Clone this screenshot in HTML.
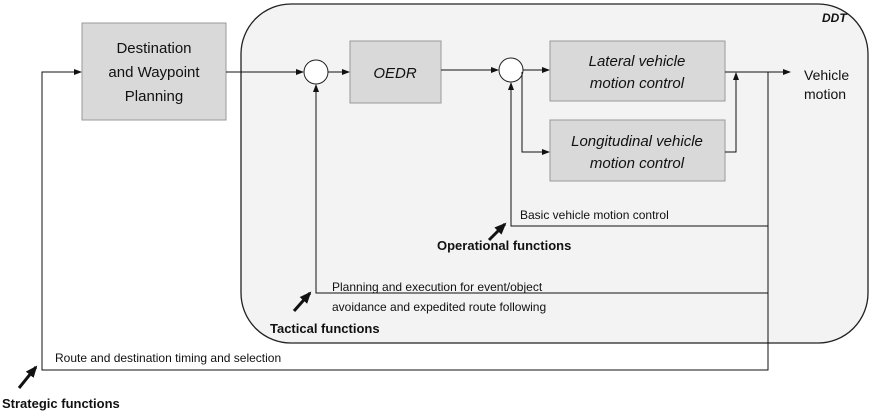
<!DOCTYPE html>
<html><head><meta charset="utf-8"><style>
body{margin:0;width:875px;height:414px;background:#fff;overflow:hidden}
text{font-family:"Liberation Sans",sans-serif;fill:#111}
</style></head><body>
<svg width="875" height="414" viewBox="0 0 875 414" xmlns="http://www.w3.org/2000/svg">
<defs><marker id="a" markerWidth="8" markerHeight="8" refX="7" refY="4" orient="auto" markerUnits="userSpaceOnUse"><path d="M0,1 L8,4 L0,7z" fill="#111"/></marker>
<marker id="b" markerWidth="12" markerHeight="12" refX="10" refY="6" orient="auto" markerUnits="userSpaceOnUse"><path d="M0,1 L12,6 L0,11z" fill="#111"/></marker></defs>
<rect x="241" y="4" width="627" height="339" rx="50" fill="#f3f3f3" stroke="#222" stroke-width="1.3"/>
<text x="822" y="22" font-size="12" font-weight="bold" font-style="italic">DDT</text>
<rect x="82" y="23" width="144" height="97" fill="#d9d9d9" stroke="#999"/>
<text font-size="15" text-anchor="middle"><tspan x="154" y="53">Destination</tspan><tspan x="154" y="77">and Waypoint</tspan><tspan x="154" y="101">Planning</tspan></text>
<rect x="350" y="41" width="91" height="62" fill="#d9d9d9" stroke="#999"/>
<text x="395" y="78" font-size="15" font-style="italic" text-anchor="middle">OEDR</text>
<rect x="550" y="41" width="175" height="60" fill="#d9d9d9" stroke="#999"/>
<text font-size="15" font-style="italic" text-anchor="middle"><tspan x="637" y="66">Lateral vehicle</tspan><tspan x="637" y="88">motion control</tspan></text>
<rect x="550" y="120" width="175" height="61" fill="#d9d9d9" stroke="#999"/>
<text font-size="15" font-style="italic" text-anchor="middle"><tspan x="637" y="146">Longitudinal vehicle</tspan><tspan x="637" y="168">motion control</tspan></text>
<circle cx="316" cy="72" r="12" fill="#fff" stroke="#222"/>
<circle cx="511" cy="70" r="12" fill="#fff" stroke="#222"/>
<g stroke="#111" stroke-width="1" fill="none">
<path d="M226,72 H303" marker-end="url(#a)"/>
<path d="M328,72 H349" marker-end="url(#a)"/>
<path d="M441,70 H498" marker-end="url(#a)"/>
<path d="M523,70 H549" marker-end="url(#a)"/>
<path d="M522,72 V152 H549" marker-end="url(#a)"/>
<path d="M725,152 H736 V73" marker-end="url(#a)"/>
<path d="M725,72 H790" marker-end="url(#a)"/>
<path d="M768,72 V370 H42 V72 H81" marker-end="url(#a)"/>
<path d="M768,226 H511 V83" marker-end="url(#a)"/>
<path d="M768,293 H316 V85" marker-end="url(#a)"/>
</g>
<g stroke="#111" stroke-width="3">
<path d="M489,240 L505,224" marker-end="url(#b)"/>
<path d="M294,311 L310,293" marker-end="url(#b)"/>
<path d="M19,388 L36,367" marker-end="url(#b)"/>
</g>
<text font-size="14"><tspan x="804" y="80">Vehicle</tspan><tspan x="804" y="99">motion</tspan></text>
<text x="520" y="219" font-size="12">Basic vehicle motion control</text>
<text x="437" y="250" font-size="13" font-weight="bold">Operational functions</text>
<text x="332" y="291" font-size="12">Planning and execution for event/object</text>
<text x="332" y="311" font-size="12">avoidance and expedited route following</text>
<text x="270" y="333" font-size="13" font-weight="bold">Tactical functions</text>
<text x="55" y="362" font-size="12">Route and destination timing and selection</text>
<text x="2" y="408" font-size="13" font-weight="bold">Strategic functions</text>
</svg>
</body></html>
